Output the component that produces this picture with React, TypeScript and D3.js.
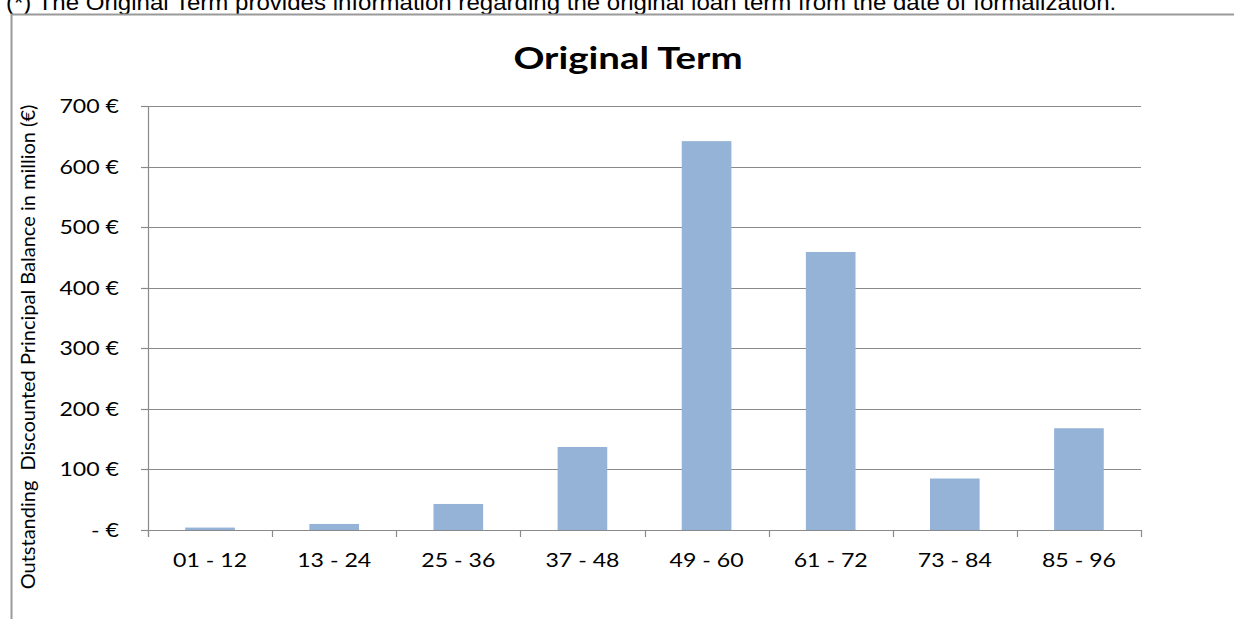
import { useEffect, useRef } from "react";
import * as d3 from "d3";

const categories = ["01 - 12", "13 - 24", "25 - 36", "37 - 48", "49 - 60", "61 - 72", "73 - 84", "85 - 96"];
const balances = [4, 10, 43, 137, 642, 459, 85, 168];
const yTicks = [0, 100, 200, 300, 400, 500, 600, 700];

const W = 1234;
const H = 619;
const margin = { top: 106, right: 93, bottom: 89, left: 148 };
const FONT = "Lato, 'Open Sans', sans-serif";
// the source picture is stretched a bit sideways, so text is widened to match
const SX = 1.25;

export default function App() {
  const svgRef = useRef<SVGSVGElement | null>(null);

  useEffect(() => {
    if (!svgRef.current) return;
    const svg = d3.select(svgRef.current);
    svg.selectAll("*").remove();

    const innerW = W - margin.left - margin.right;
    const innerH = H - margin.top - margin.bottom;

    // note line above the chart box, clipped by the top edge
    svg
      .append("text")
      .attr("transform", "translate(6,10) scale(1.094,1)")
      .attr("font-family", "'Liberation Sans', Arial, sans-serif")
      .attr("font-size", 22)
      .attr("fill", "#000")
      .text("(*) The Original Term provides information regarding the original loan term from the date of formalization.");

    // chart frame
    svg
      .append("path")
      .attr("d", `M11.5,${H} V14.5 H${W}`)
      .attr("fill", "none")
      .attr("stroke", "#9a9a9a")
      .attr("stroke-width", 2);

    svg
      .append("text")
      .attr("transform", `translate(628,69) scale(1.24,1)`)
      .attr("text-anchor", "middle")
      .attr("font-family", FONT)
      .attr("font-weight", 700)
      .attr("font-size", 31)
      .attr("fill", "#000")
      .text("Original Term");

    svg
      .append("text")
      .attr("transform", `translate(35,347) rotate(-90)`)
      .attr("text-anchor", "middle")
      .attr("font-family", FONT)
      .attr("font-size", 20)
      .attr("fill", "#000")
      .style("white-space", "pre")
      .text("Outstanding  Discounted Principal Balance in million (€)");

    const root = svg.append("g").attr("transform", `translate(${margin.left},${margin.top})`);

    const x = d3.scaleBand().domain(categories).range([0, innerW]).paddingInner(0.6).paddingOuter(0.3);
    const xEdge = d3.scaleLinear().domain([0, categories.length]).range([0, innerW]);
    const y = d3.scaleLinear().domain([0, 700]).range([innerH, 0]);

    // gridlines
    root
      .selectAll("line.grid")
      .data(yTicks.filter((t) => t > 0))
      .join("line")
      .attr("class", "grid")
      .attr("x1", 0)
      .attr("x2", innerW)
      .attr("y1", (d) => Math.round(y(d)) + 0.5)
      .attr("y2", (d) => Math.round(y(d)) + 0.5)
      .attr("stroke", "#8a8a8a")
      .attr("stroke-width", 1.2);

    root
      .selectAll("rect.bar")
      .data(categories)
      .join("rect")
      .attr("class", "bar")
      .attr("x", (d) => x(d) ?? 0)
      .attr("width", x.bandwidth())
      .attr("y", (_, i) => y(balances[i]))
      .attr("height", (_, i) => innerH - y(balances[i]))
      .attr("fill", "#95b3d7");

    // y axis
    const yAxis = root.append("g");
    yAxis
      .append("line")
      .attr("x1", 0.5)
      .attr("x2", 0.5)
      .attr("y1", 0)
      .attr("y2", innerH + 7)
      .attr("stroke", "#8a8a8a")
      .attr("stroke-width", 1.2);
    yAxis
      .selectAll("line.tick")
      .data(yTicks)
      .join("line")
      .attr("class", "tick")
      .attr("x1", -7)
      .attr("x2", 0)
      .attr("y1", (d) => Math.round(y(d)) + 0.5)
      .attr("y2", (d) => Math.round(y(d)) + 0.5)
      .attr("stroke", "#8a8a8a")
      .attr("stroke-width", 1.2);
    yAxis
      .selectAll("text")
      .data(yTicks)
      .join("text")
      .attr("transform", (d) => `translate(-29,${y(d)}) scale(${SX},1)`)
      .attr("dy", "0.38em")
      .attr("text-anchor", "end")
      .attr("font-family", FONT)
      .attr("font-size", 18.5)
      .attr("fill", "#000")
      .text((d) => (d === 0 ? "- €" : `${d} €`));

    // x axis
    const xAxis = root.append("g").attr("transform", `translate(0,${innerH})`);
    xAxis
      .append("line")
      .attr("x1", 0)
      .attr("x2", innerW)
      .attr("y1", 0.5)
      .attr("y2", 0.5)
      .attr("stroke", "#8a8a8a")
      .attr("stroke-width", 1.2);
    xAxis
      .selectAll("line.tick")
      .data(d3.range(categories.length + 1))
      .join("line")
      .attr("class", "tick")
      .attr("x1", (d) => Math.round(xEdge(d)) + 0.5)
      .attr("x2", (d) => Math.round(xEdge(d)) + 0.5)
      .attr("y1", 0)
      .attr("y2", 7)
      .attr("stroke", "#8a8a8a")
      .attr("stroke-width", 1.2);
    xAxis
      .selectAll("text")
      .data(categories)
      .join("text")
      .attr("transform", (d) => `translate(${(x(d) ?? 0) + x.bandwidth() / 2},37) scale(${SX},1)`)
      .attr("text-anchor", "middle")
      .attr("font-family", FONT)
      .attr("font-size", 18.5)
      .attr("fill", "#000")
      .text((d) => d);
  }, []);

  return (
    <svg
      ref={svgRef}
      width={W}
      height={H}
      style={{ position: "fixed", left: 0, top: 0, background: "#fff" }}
    />
  );
}
